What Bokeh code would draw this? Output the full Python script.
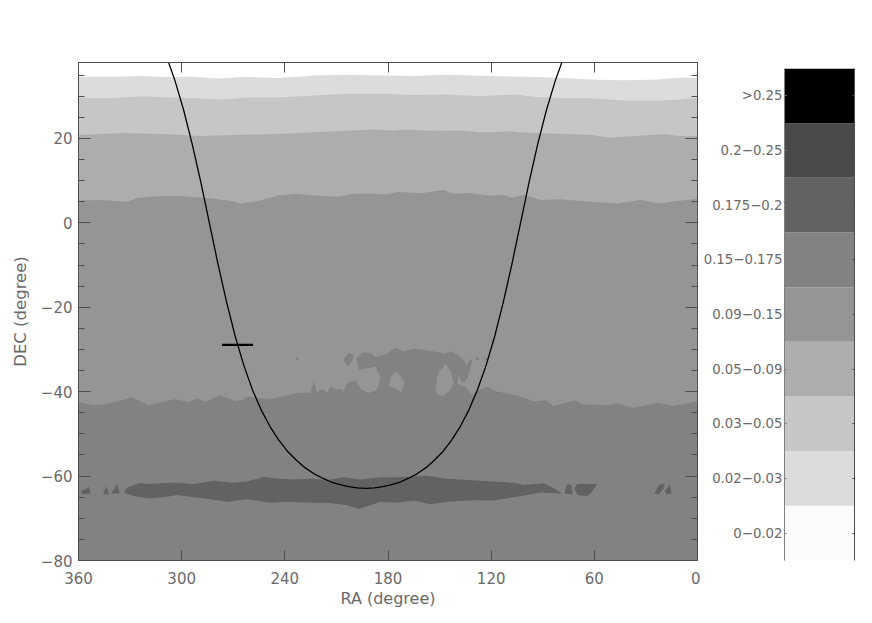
from bokeh.plotting import figure
from bokeh.models import LinearAxis, FixedTicker, Range1d
from bokeh.layouts import row
from bokeh.embed import file_html
from bokeh.resources import INLINE

# ---- data ----
x_ticks = [360, 300, 240, 180, 120, 60, 0]
y_ticks = [-80, -60, -40, -20, 0, 20]
y_minor = [-75, -70, -65, -55, -50, -45, -35, -30, -25, -15, -10, -5, 5, 10, 15, 25, 30, 35]
ra_limits = (360, 0)
dec_limits = (-80, 38)

legend_labels = ["0\u22120.02", "0.02\u22120.03", "0.03\u22120.05", "0.05\u22120.09", "0.09\u22120.15",
                 "0.15\u22120.175", "0.175\u22120.2", "0.2\u22120.25", ">0.25"]
legend_colors = ["#fbfbfb", "#dcdcdc", "#c6c6c6", "#adadad", "#959595",
                 "#828282", "#626262", "#4a4a4a", "#000000"]

ra_a = [360, 340, 322, 305, 295, 279, 264, 244, 223, 204, 184, 165, 146, 119, 101, 81, 62, 43, 23, 12, 0]
dec_a = [34.6, 34.6, 34.8, 34.5, 34.7, 34.2, 34.6, 34.3, 34.9, 35.1, 34.9, 34.8, 35.1, 34.8, 34.6, 34.4, 34.0, 33.8, 34.0, 34.4, 34.4]

ra_b = [360, 341, 322, 308, 295, 277, 262, 244, 223, 204, 184, 165, 146, 126, 120, 105, 95, 81, 62, 43, 23, 12, 0]
dec_b = [29.6, 29.6, 30.0, 29.7, 29.6, 29.2, 29.7, 29.7, 30.2, 30.6, 30.6, 30.3, 30.4, 30.0, 30.2, 30.4, 29.9, 29.6, 29.5, 29.0, 29.0, 29.2, 29.6]

ra_c = [360, 334, 308, 289, 270, 250, 231, 223, 204, 188, 177, 169, 155, 138, 126, 119, 110, 101, 81, 62, 51, 37, 20, 10, 0]
dec_c = [20.8, 21.3, 21.0, 20.6, 20.8, 21.0, 21.3, 21.5, 21.8, 22.1, 21.8, 22.1, 21.8, 21.9, 21.5, 21.5, 21.7, 21.4, 21.1, 20.8, 20.2, 20.6, 21.0, 20.6, 20.6]

ra_d = [360, 347, 331, 326, 314, 299, 281, 270, 266, 254, 244, 233, 223, 209, 200, 188, 182, 174, 161, 148, 142, 134,
        120, 113, 108, 101, 91, 80, 62, 47, 33, 22, 12, 0]
dec_d = [5.3, 5.4, 5.0, 5.9, 6.3, 6.3, 5.7, 5.1, 4.6, 5.3, 6.5, 6.9, 6.5, 6.2, 6.9, 6.9, 6.7, 7.3, 7.0, 7.8, 6.9, 7.1,
         6.4, 6.6, 6.0, 6.6, 5.4, 5.6, 5.0, 4.6, 5.4, 4.6, 5.2, 5.7]

ra_e = [360, 352, 343, 329, 319, 304, 296, 291, 286, 278, 269, 265, 262, 248,
        232.8, 225.0, 223.1, 221.6, 218.3, 215.4, 213.4, 210.5, 207.6, 206.0, 203.7, 198.9, 196.0, 191.1, 186.3, 184.3,
        187.2, 196.9, 198.3, 195.0, 190.1, 187.2, 180.5, 175.6, 170.8, 164.9, 157.2, 146.5, 143.6, 139.7, 135.9, 134.3,
        132.0, 131.0, 133.5, 135.9, 137.8, 138.8, 139.7, 134.9, 131.0, 128.1, 122.3, 117.4, 113.6, 103.9, 95.2, 88.4,
        83.6, 71.0, 67.1, 53.5, 45.8, 38.0, 22.5, 14.7, 1.2, 0]
dec_e = [-42.4, -43.2, -42.9, -41.4, -43.2, -41.8, -42.4, -41.6, -42.4, -40.8, -42.2, -42.0, -41.2, -41.8,
         -40.3, -40.2, -37.3, -40.3, -39.3, -40.2, -38.7, -39.5, -39.3, -40.1, -37.9, -37.3, -39.3, -40.3, -39.5, -36.9,
         -34.1, -34.8, -32.2, -30.8, -30.8, -31.8, -31.0, -29.6, -30.4, -29.8, -30.2, -31.0, -30.4, -31.2, -32.6, -33.7,
         -32.2, -32.6, -36.5, -37.9, -37.3, -35.7, -38.1, -38.9, -40.8, -39.7, -38.9, -39.9, -40.2, -41.0, -42.3, -42.0,
         -43.4, -42.0, -43.0, -43.2, -42.8, -43.8, -42.7, -43.4, -42.4, -42.8]

ra_lobe = [205.7, 202.8, 199.8, 200.8, 202.8, 205.3]
dec_lobe = [-32.2, -30.8, -31.4, -32.6, -34.0, -33.0]
ra_hole1 = [179.5, 178.1, 175.6, 172.7, 170.4, 172.3, 175.6, 177.5]
dec_hole1 = [-38.5, -36.5, -35.3, -36.1, -37.9, -40.1, -39.3, -39.0]
ra_hole2 = [152.3, 151.4, 149.4, 146.5, 143.6, 141.7, 144.6, 148.5, 151.4]
dec_hole2 = [-39.7, -36.5, -34.8, -33.4, -35.3, -38.1, -40.1, -41.0, -40.5]
ra_spots = [232.8, 128.1, 122.9]
dec_spots = [-32.2, -32.2, -32.2]

ra_band = [333.3, 331.7, 324.0, 320.1, 312.3, 304.6, 292.9, 281.3, 269.7, 261.9, 252.2, 242.5, 234.8, 225.1, 215.4, 205.7, 196.0, 184.4,
           174.7, 157.3, 145.6, 126.2, 106.8, 101.0, 89.4, 83.6, 78.7,
           91.3, 99.1, 106.8, 118.5, 130.1, 145.6, 155.3, 165.0, 174.7, 184.4,
           196.9, 203.7, 215.4, 223.1, 238.6, 248.3, 261.9, 273.5, 283.2, 292.9, 302.6, 308.5, 319.1, 327.8, 332.7]
dec_band = [-63.7, -62.7, -61.6, -61.9, -61.7, -61.6, -61.9, -61.1, -61.6, -61.3, -60.2, -60.6, -60.8, -60.6, -60.9, -60.3, -60.8, -60.3,
            -60.3, -59.9, -60.6, -61.1, -61.6, -62.1, -61.7, -62.9, -64.1,
            -63.9, -64.5, -65.0, -65.8, -65.7, -66.1, -66.7, -65.8, -66.3, -66.1,
            -67.8, -66.9, -66.3, -66.3, -66.1, -66.3, -65.5, -66.1, -65.5, -65.0, -64.5, -64.9, -65.3, -64.7, -64.1]

ra_blobs = [[358.5, 356, 354, 353, 357.9], [345.7, 344, 342.2], [341, 337.5, 336],
            [77.4, 75.8, 73.5, 72.5], [71.5, 70, 58.4, 61.3, 64.2, 70],
            [25, 22.5, 19.2, 19.6, 22.5], [19.2, 16.1, 15.1, 17.6]]
dec_blobs = [[-63.5, -63.2, -62.5, -64.1, -64.3], [-64.3, -62.4, -64.3], [-64.1, -61.9, -64.1],
             [-64.1, -61.9, -62.1, -64.3], [-62.9, -61.9, -61.9, -63.7, -64.7, -64.5],
             [-64.1, -62.1, -61.7, -62.9, -64.3], [-63.7, -62.0, -64.1, -64.3]]

ra_plane = [308.9, 303.9, 298.9, 293.9, 288.9, 283.9, 278.9, 273.9, 268.9, 263.9, 258.9, 253.8, 248.7, 243.6, 238.5, 233.4,
            228.3, 223.2, 218.1, 213.0, 207.9, 202.9, 197.9, 192.9, 187.9, 182.9, 177.9, 172.9, 167.9, 162.9, 157.9, 152.9,
            147.9, 142.9, 137.9, 132.9, 127.9, 122.9, 117.9, 112.9, 107.9, 102.9, 97.9, 92.9, 87.8, 82.7, 77.6]
dec_plane = [39.5, 33.7, 26.8, 18.7, 9.7, 0, -9.7, -18.7, -26.8, -33.7, -39.5, -44.3, -48.2, -51.4, -54.1, -56.2,
             -58.0, -59.4, -60.5, -61.4, -62.0, -62.5, -62.8, -62.9, -62.8, -62.5, -62.0, -61.4, -60.5, -59.4, -58.0, -56.2,
             -54.1, -51.4, -48.2, -44.3, -39.5, -33.7, -26.8, -18.7, -9.7, 0, 9.7, 18.7, 26.8, 33.7, 39.5]
ra_center = [276.5, 258.5]
dec_center = [-28.9, -28.9]

# ---- styles ----
TXT = "#6a6a6a"
AX = "#4d4d4d"
FONT = "DejaVu Sans"


def style_axis(ax, major_in, minor_in=0, ticks=None):
    ax.axis_line_color = AX
    ax.major_tick_line_color = AX
    ax.minor_tick_line_color = AX
    ax.major_tick_in = major_in
    ax.major_tick_out = 0
    ax.minor_tick_in = minor_in
    ax.minor_tick_out = 0
    ax.major_label_text_font = FONT
    ax.major_label_text_color = TXT
    ax.major_label_text_font_size = "15px"
    ax.major_label_standoff = 6
    ax.axis_label_text_font = FONT
    ax.axis_label_text_color = TXT
    ax.axis_label_text_font_style = "normal"
    if ticks is not None:
        ax.major_label_overrides = {t: "" for t in ticks}
        ax.major_label_standoff = 0


p = figure(frame_width=619, frame_height=498, min_border_left=78, min_border_right=3,
           min_border_top=62, min_border_bottom=60, x_range=Range1d(*ra_limits), y_range=Range1d(*dec_limits),
           output_backend="svg", toolbar_location=None, x_axis_label="RA (degree)", y_axis_label="DEC (degree)")
p.frame_align = False
p.grid.visible = False
p.outline_line_color = None

x_ticker = FixedTicker(ticks=x_ticks)
y_ticker = FixedTicker(ticks=y_ticks, minor_ticks=y_minor)
p.xaxis.ticker = x_ticker
p.yaxis.ticker = y_ticker
style_axis(p.xaxis[0], 10)
style_axis(p.yaxis[0], 12, 6)
p.xaxis[0].major_label_standoff = 11
p.xaxis[0].axis_label_text_font_size = "16px"
p.yaxis[0].axis_label_text_font_size = "16.5px"
p.xaxis[0].axis_label_standoff = 2
p.yaxis[0].axis_label_standoff = 8
top_axis = LinearAxis(ticker=x_ticker)
right_axis = LinearAxis(ticker=y_ticker)
style_axis(top_axis, 10, ticks=x_ticks)
style_axis(right_axis, 12, 6, ticks=y_ticks)
p.add_layout(top_axis, "above")
p.add_layout(right_axis, "right")


def filled(ra, dec, color):
    p.patch(list(ra) + [ra_limits[1], ra_limits[0]], list(dec) + [dec_limits[0], dec_limits[0]],
            fill_color=color, line_color=None)


filled(ra_a, dec_a, legend_colors[1])
filled(ra_b, dec_b, legend_colors[2])
filled(ra_c, dec_c, legend_colors[3])
filled(ra_d, dec_d, legend_colors[4])
filled(ra_e, dec_e, legend_colors[5])
p.patch(ra_lobe, dec_lobe, fill_color=legend_colors[5], line_color=None)
p.patch(ra_hole1, dec_hole1, fill_color=legend_colors[4], line_color=None)
p.patch(ra_hole2, dec_hole2, fill_color=legend_colors[4], line_color=None)
p.scatter(ra_spots, dec_spots, size=3, fill_color=legend_colors[5], line_color=None)
p.patch(ra_band, dec_band, fill_color=legend_colors[6], line_color=None)
for rb, db in zip(ra_blobs, dec_blobs):
    p.patch(rb, db, fill_color=legend_colors[6], line_color=None)
p.line(ra_plane, dec_plane, line_color="#000000", line_width=1.3)
p.line(ra_center, dec_center, line_color="#000000", line_width=2.2)

# ---- colour key ----
n = len(legend_labels)
c = figure(frame_width=70, frame_height=492, min_border_left=70, min_border_right=6,
           min_border_top=68, min_border_bottom=50, x_range=Range1d(0, 1), y_range=Range1d(0, n),
           output_backend="svg", toolbar_location=None)
c.frame_align = False
c.grid.visible = False
c.outline_line_color = None
c.xaxis.visible = False
levels = list(range(n))
c.quad(left=0, right=1, bottom=levels, top=[v + 1 for v in levels], fill_color=legend_colors, line_color=None)
mids = [v + 0.5 for v in levels]
key_ticker = FixedTicker(ticks=mids)
c.yaxis.ticker = key_ticker
style_axis(c.yaxis[0], 2)
c.yaxis[0].axis_line_color = "#808080"
c.yaxis[0].major_tick_line_color = "#808080"
c.yaxis[0].major_label_text_font_size = "13.3px"
c.yaxis[0].major_label_standoff = 2
c.yaxis[0].major_label_overrides = {m: t for m, t in zip(mids, legend_labels)}
key_right = LinearAxis(ticker=key_ticker)
style_axis(key_right, 2, ticks=mids)
c.add_layout(key_right, "right")

page = row(p, c)
open("out.html", "w").write(file_html(page, INLINE))
